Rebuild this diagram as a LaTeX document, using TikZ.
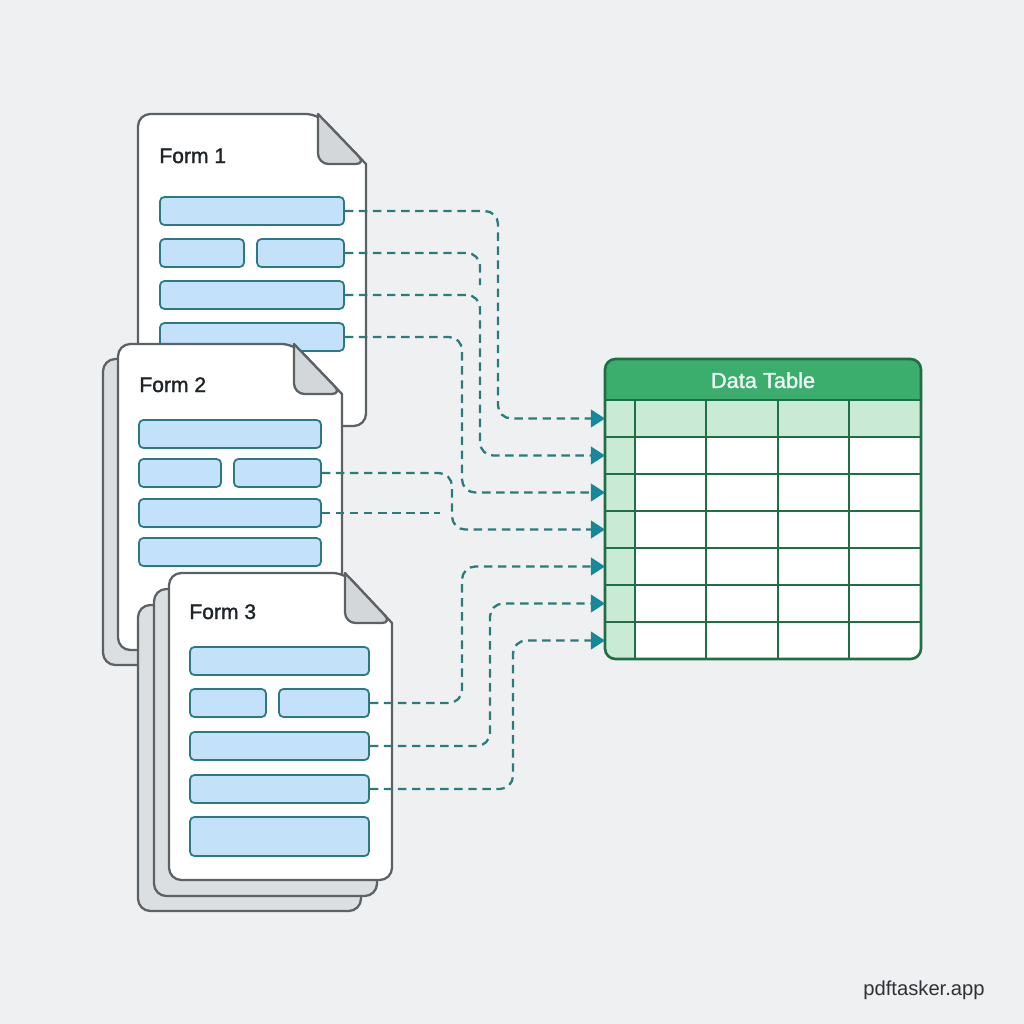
\documentclass[tikz,border=0pt]{standalone}
\usepackage{fontspec}
\setmainfont{Liberation Sans}
\newfontfamily\labelfont[FakeBold=1.4]{Liberation Sans}
\usetikzlibrary{arrows.meta, positioning, fit}
\definecolor{pagebg}{HTML}{EEF0F2}
\definecolor{sheetline}{HTML}{5C6166}
\definecolor{sheetgrey}{HTML}{DCDFE2}
\definecolor{foldgrey}{HTML}{D4D7DA}
\definecolor{fieldblue}{HTML}{C3E1F8}
\definecolor{fieldline}{HTML}{2B7A82}
\definecolor{linkteal}{HTML}{2A7B7A}
\definecolor{arrowteal}{HTML}{17879A}
\definecolor{tablegreen}{HTML}{1F6E45}
\definecolor{headgreen}{HTML}{3BAE6D}
\definecolor{cellgreen}{HTML}{C9EBD5}
\definecolor{inkdark}{HTML}{1E2428}
\definecolor{footgrey}{HTML}{2E3236}

\begin{document}
\begin{tikzpicture}[
    x=0.02cm, y=-0.02cm,
    sheet/.style={draw=sheetline, line width=1.3pt, fill=white, line join=round},
    backsheet/.style={sheet, fill=sheetgrey},
    fold/.style={draw=sheetline, line width=1.3pt, fill=foldgrey, line join=round},
    formtitle/.style={anchor=base west, inner sep=0pt, text=inkdark, font=\labelfont\fontsize{12}{14}\selectfont},
    field/.style={draw=fieldline, fill=fieldblue, line width=1pt, rounded corners=2.5pt, inner sep=0pt},
    link/.style={draw=linkteal, line width=1.3pt, dash pattern=on 4.8pt off 3.2pt, rounded corners=7.5pt},
    feed/.style={link, -{Triangle[length=8pt, width=10pt, fill=arrowteal, color=arrowteal]}},
    cellline/.style={draw=tablegreen, line width=1.2pt},
    tablebox/.style={draw=tablegreen, line width=1.5pt, rounded corners=6pt, inner sep=0pt}
]

% Canvas
\fill[pagebg] (0,0) rectangle (1024,1024);
\useasboundingbox (0,0) rectangle (1024,1024);

% Form 1
\draw[sheet] (138,144) [rounded corners=7pt] -- (138,114) -- (318,114) [sharp corners] -- (366,164) -- (366,184) [rounded corners=7pt] -- (366,426) -- (138,426) -- cycle;
\draw[fold] (318,114) [rounded corners=6pt] -- (318,164) -- (366,164) [sharp corners] -- cycle;
\node[formtitle] (t1) at (159,163) {Form 1};
\node[field, fit={(160,197) (344,225)}] (f1r1) {};
\node[field, fit={(160,239) (244,267)}] (f1r2a) {};
\node[field, fit={(257,239) (344,267)}] (f1r2b) {};
\node[field, fit={(160,281) (344,309)}] (f1r3) {};
\node[field, fit={(160,323) (344,351)}] (f1r4) {};

% Form 2 (two sheets)
\draw[backsheet] (103,389) [rounded corners=7pt] -- (103,359) -- (279,359) [sharp corners] -- (327,409) -- (327,429) [rounded corners=7pt] -- (327,665) -- (103,665) -- cycle;
\draw[sheet] (118,374) [rounded corners=7pt] -- (118,344) -- (294,344) [sharp corners] -- (342,394) -- (342,414) [rounded corners=7pt] -- (342,650) -- (118,650) -- cycle;
\draw[fold] (294,344) [rounded corners=6pt] -- (294,394) -- (342,394) [sharp corners] -- cycle;
\node[formtitle] (t2) at (139,392) {Form 2};
\node[field, fit={(139,420) (321,448)}] (f2r1) {};
\node[field, fit={(139,459) (221,487)}] (f2r2a) {};
\node[field, fit={(234,459) (321,487)}] (f2r2b) {};
\node[field, fit={(139,499) (321,527)}] (f2r3) {};
\node[field, fit={(139,538) (321,566)}] (f2r4) {};

% Form 3 (three sheets)
\draw[backsheet] (138,635) [rounded corners=7pt] -- (138,605) -- (313,605) [sharp corners] -- (361,655) -- (361,675) [rounded corners=7pt] -- (361,911) -- (138,911) -- cycle;
\draw[backsheet] (154,619) [rounded corners=7pt] -- (154,589) -- (329,589) [sharp corners] -- (377,639) -- (377,659) [rounded corners=7pt] -- (377,896) -- (154,896) -- cycle;
\draw[sheet] (169,603) [rounded corners=7pt] -- (169,573) -- (345,573) [sharp corners] -- (392,623) -- (392,643) [rounded corners=7pt] -- (392,880) -- (169,880) -- cycle;
\draw[fold] (345,573) [rounded corners=6pt] -- (345,623) -- (392,623) [sharp corners] -- cycle;
\node[formtitle] (t3) at (189,619) {Form 3};
\node[field, fit={(190,647) (369,675)}] (f3r1) {};
\node[field, fit={(190,689) (266,717)}] (f3r2a) {};
\node[field, fit={(279,689) (369,717)}] (f3r2b) {};
\node[field, fit={(190,732) (369,760)}] (f3r3) {};
\node[field, fit={(190,775) (369,803)}] (f3r4) {};
\node[field, fit={(190,817) (369,856)}] (f3r5) {};

% Data table
\begin{scope}
  \clip[rounded corners=6pt] (605,359) rectangle (921,659);
  \fill[white] (605,359) rectangle (921,659);
  \fill[headgreen] (605,359) rectangle (921,400);
  \fill[cellgreen] (605,400) rectangle (921,437);
  \fill[cellgreen] (605,437) rectangle (635,659);
  \foreach \y in {400,437,474,511,548,585,622}
    \draw[cellline] (605,\y) -- (921,\y);
  \foreach \x in {635,706,778,849}
    \draw[cellline] (\x,400) -- (\x,659);
\end{scope}
\node[tablebox, fit={(605,359) (921,659)}] (table) {};
\node[anchor=base, inner sep=0pt, text=white!92!headgreen, font=\labelfont\fontsize{12.4}{15}\selectfont] (tabletitle) at (763,388) {Data Table};
\foreach \i in {1,...,7}
  \coordinate (in\i) at (605,{381.5+37*\i});

% Loose ends
\coordinate (d1) at (480,285);
\coordinate (d2) at (440,513);

% Links from Form 1
\draw[feed] (f1r1.east) -| (498,300) |- (in1);
\draw[link] (f1r2b.east) -| (d1);
\draw[feed] (f1r3.east) -| (480,400) |- (in2);
\draw[feed] (f1r4.east) -| (462,420) |- (in3);

% Links from Form 2
\draw[feed] (f2r2b.east) -| (452,500) |- (in4);
\draw[link] (f2r3.east) -- (d2);

% Links from Form 3
\draw[feed] (f3r2b.east) -| (462,650) |- (in5);
\draw[feed] (f3r3.east) -| (490,680) |- (in6);
\draw[feed] (f3r4.east) -| (513,700) |- (in7);

% Footer
\node[anchor=base west, inner sep=0pt, text=footgrey, font=\fontsize{11.5}{13}\selectfont] (brand) at (863,995) {pdftasker.app};

\end{tikzpicture}
\end{document}
